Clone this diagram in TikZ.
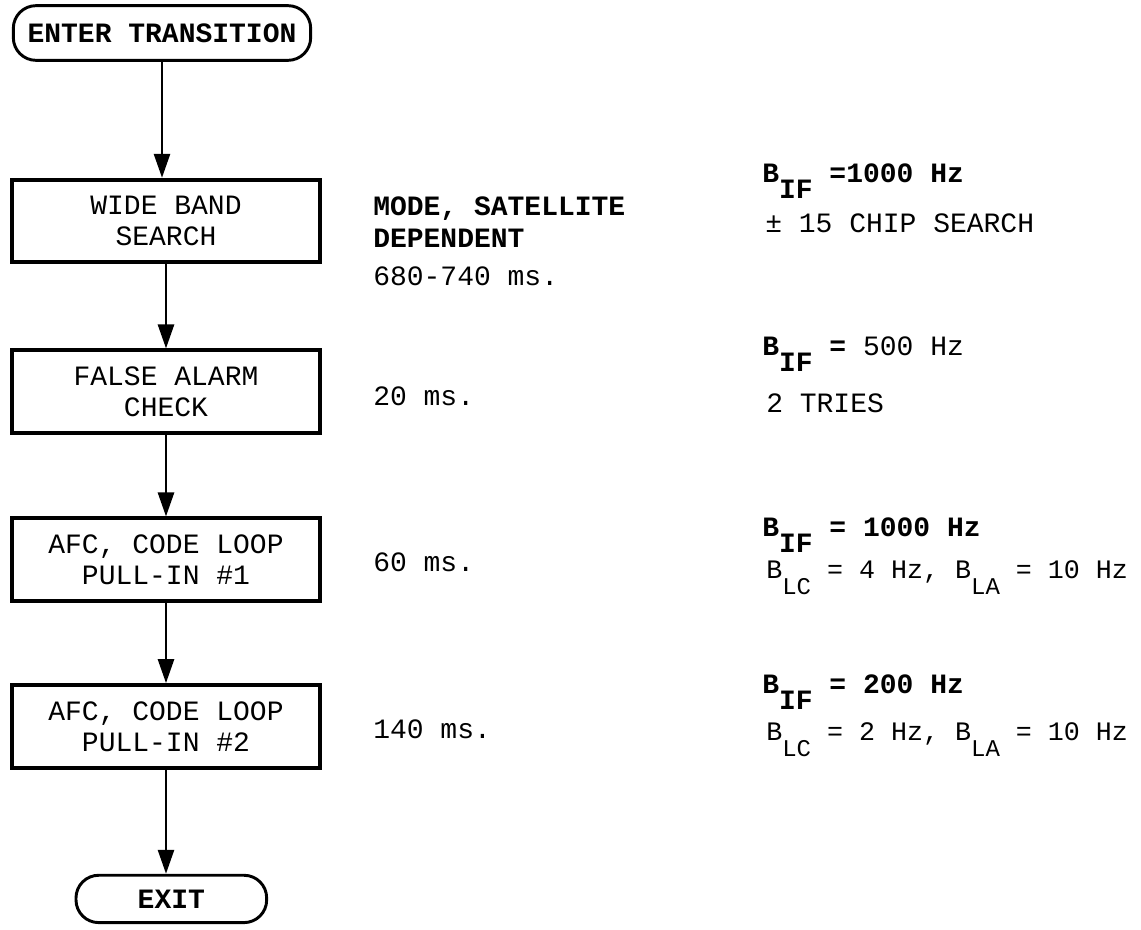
\documentclass[tikz,border=0pt]{standalone}
\usepackage{fontspec}
\setmainfont{Liberation Mono}
\usetikzlibrary{arrows.meta, positioning}

\newcommand{\lowsub}[1]{\raisebox{-12pt}{#1}}
\newcommand{\smallsub}[1]{\raisebox{-12pt}{\fontsize{18}{20}\selectfont #1}}

\begin{document}
\begin{tikzpicture}[
  x=0.75pt, y=-0.75pt,
  every node/.style={font=\fontsize{21}{23}\selectfont},
  term/.style={draw, line width=2.2pt, rounded corners=17pt, inner sep=0pt, font=\fontsize{21}{23}\selectfont\bfseries},
  stepbox/.style={draw, line width=3pt, minimum width=231pt, minimum height=62pt,
                  align=center, inner sep=0pt},
  note/.style={anchor=base west, inner sep=0pt},
  loopnote/.style={note, font=\fontsize{20}{23}\selectfont},
  arr/.style={-{Triangle[length=18pt, width=12pt]}, line width=2pt}
]
\useasboundingbox (0,0) rectangle (1141,930);

% Flow chart (left column)
\node[term, minimum width=223pt, minimum height=41pt] (enter) at (162,33) {ENTER TRANSITION};
\node[stepbox, below=87pt of enter, xshift=3pt] (wide) {WIDE BAND\\SEARCH};
\node[stepbox, below=63pt of wide] (false) {FALSE ALARM\\CHECK};
\node[stepbox, below=61pt of false] (afca) {AFC, CODE LOOP\\PULL-IN \#1};
\node[stepbox, below=60pt of afca] (afcb) {AFC, CODE LOOP\\PULL-IN \#2};
\node[term, minimum width=143pt, minimum height=35.5pt, below=78pt of afcb, xshift=4pt] (exit) {EXIT};

% Arrows
\draw[arr] (enter.south) -- (enter.south |- wide.north);
\draw[arr] (wide.south) -- (wide.south |- false.north);
\draw[arr] (false.south) -- (false.south |- afca.north);
\draw[arr] (afca.south) -- (afca.south |- afcb.north);
\draw[arr] (afcb.south) -- (afcb.south |- exit.north);

% Times (middle column)
\node[note] (mode) at (373,216) {\bfseries MODE, SATELLITE};
\node[note] (dep) at (373,248) {\bfseries DEPENDENT};
\node[note] (twide) at (373,286) {680-740 ms.};
\node[note] (tfalse) at (373,405) {20 ms.};
\node[note] (tafca) at (373,571) {60 ms.};
\node[note] (tafcb) at (373,738) {140 ms.};

% Bandwidths (right column)
\node[note] (bwide) at (762,183) {\bfseries B\lowsub{IF} =1000 Hz};
\node[note] (chip) at (765,233) {± 15 CHIP SEARCH};
\node[note] (bfalse) at (762,355) {\textbf{B\lowsub{IF} =} 500 Hz};
\node[note] (tries) at (766,412) {2 TRIES};
\node[note] (bafca) at (762,536) {\bfseries B\lowsub{IF} = 1000 Hz};
\node[loopnote] (lafca) at (766,578) {B\smallsub{LC} = 4 Hz, B\smallsub{LA} = 10 Hz};
\node[note] (bafcb) at (762,693) {\bfseries B\lowsub{IF} = 200 Hz};
\node[loopnote] (lafcb) at (766,740) {B\smallsub{LC} = 2 Hz, B\smallsub{LA} = 10 Hz};

\end{tikzpicture}
\end{document}
